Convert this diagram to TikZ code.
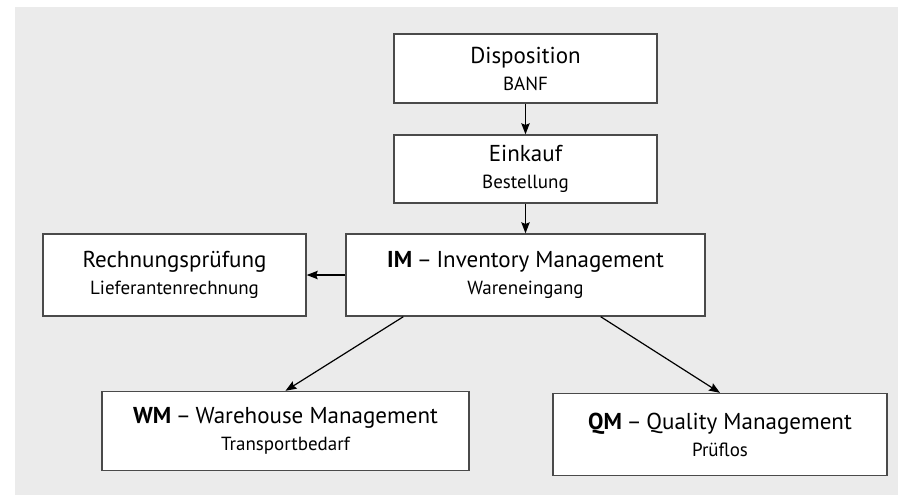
\documentclass[tikz,border=0pt]{standalone}
\usepackage{fontspec}
\setmainfont{PT Sans}
\usepackage{tikz}
\usetikzlibrary{arrows.meta}
\definecolor{bggray}{HTML}{EBEBEB}
\definecolor{boxline}{HTML}{4A4A4A}
\tikzset{
  modul/.style={draw=boxline, line width=.7pt, fill=white, align=center,
    inner sep=0pt, font=\fontsize{11.5}{17}\selectfont},
  flow/.style={black, semithick, -{Stealth[length=5.5pt,width=4.2pt,inset=.8pt]}}
}
\newcommand{\unter}[1]{\\[-3.5pt]{\fontsize{9.5}{12}\selectfont #1}}
\newcommand{\strich}{\hspace{.2em}--\hspace{.2em}}

\begin{document}
\begin{tikzpicture}[x=0.5pt, y=-0.5pt]
\useasboundingbox (0,0) rectangle (898,495);
\fill[bggray] (15,7) rectangle (898,495);
\node[modul, minimum width=263*0.5pt, minimum height=69*0.5pt] (dispo) at (525.5,68.5) {Disposition\unter{BANF}};
\node[modul, minimum width=263*0.5pt, minimum height=68*0.5pt] (einkauf) at (525.5,169) {Einkauf\unter{Bestellung}};
\node[modul, minimum width=359*0.5pt, minimum height=82*0.5pt] (im) at (525.5,275) {\textbf{IM}\strich Inventory Management\unter{Wareneingang}};
\node[modul, minimum width=263*0.5pt, minimum height=82*0.5pt] (rech) at (174.5,275) {Rechnungsprüfung\unter{Lieferantenrechnung}};
\node[modul, minimum width=367*0.5pt, minimum height=79*0.5pt] (wm) at (285.5,431) {\textbf{WM}\strich Warehouse Management\unter{Transportbedarf}};
\node[modul, minimum width=334*0.5pt, minimum height=82*0.5pt] (qm) at (720,434.5) {\textbf{QM}\strich Quality Management\unter{Prüflos}};
\coordinate (imwm) at ([xshift=58*0.5pt]im.south west);
\coordinate (imqm) at ([xshift=-105*0.5pt]im.south east);
\draw[flow] (dispo) -- (einkauf);
\draw[flow] (einkauf) -- (im);
\draw[flow] (im) -- (rech);
\draw[flow] (imwm) -- (wm.north);
\draw[flow] (imqm) -- (qm.north);
\end{tikzpicture}
\end{document}
